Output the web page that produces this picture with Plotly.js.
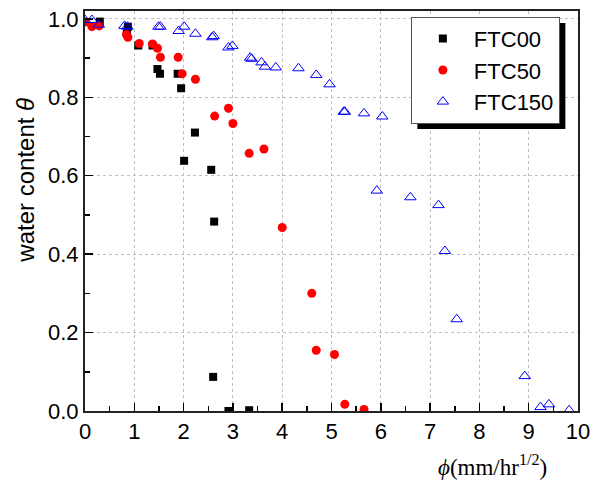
<!DOCTYPE html>
<html>
<head>
<meta charset="utf-8">
<script src="https://cdn.plot.ly/plotly-3.0.1.min.js"></script>
<style>html,body{margin:0;padding:0;background:#fff;}#chart{width:595px;height:489px;}</style>
</head>
<body>
<div id="chart"></div>
<script>
const seriesNames = ["FTC00", "FTC50", "FTC150"];

const ftc00X = [0.30, 0.87, 0.85, 1.08, 1.37, 1.47, 1.52, 1.88, 1.95, 2.23, 2.01, 2.56, 2.62, 2.60, 2.91, 3.33];
const ftc00Y = [0.993, 0.980, 0.963, 0.932, 0.932, 0.872, 0.860, 0.860, 0.823, 0.710, 0.638, 0.615, 0.483, 0.087, 0.000, 0.002];

const ftc50X = [0.00, 0.14, 0.29, 0.84, 0.87, 1.10, 1.37, 1.47, 1.53, 1.89, 1.97, 2.24, 2.63, 2.91, 3.00, 3.33, 3.63, 4.00, 4.60, 4.69, 5.06, 5.27, 5.66];
const ftc50Y = [0.992, 0.980, 0.982, 0.960, 0.953, 0.937, 0.936, 0.925, 0.902, 0.902, 0.860, 0.846, 0.752, 0.772, 0.733, 0.657, 0.668, 0.468, 0.300, 0.155, 0.144, 0.017, 0.004];

const ftc150X = [0.00, 0.14, 0.28, 0.80, 0.86, 1.49, 1.53, 1.90, 2.01, 2.24, 2.58, 2.61, 2.91, 2.99, 3.35, 3.38, 3.58, 3.65, 3.87, 4.33, 4.69, 4.96, 5.25, 5.27, 5.66, 6.03, 5.92, 6.60, 7.17, 7.30, 7.54, 8.92, 9.24, 9.41, 9.82];
const ftc150Y = [0.997, 0.997, 0.985, 0.982, 0.980, 0.980, 0.980, 0.969, 0.980, 0.962, 0.953, 0.956, 0.927, 0.931, 0.901, 0.898, 0.889, 0.878, 0.876, 0.874, 0.857, 0.833, 0.763, 0.763, 0.759, 0.751, 0.562, 0.545, 0.525, 0.408, 0.234, 0.089, 0.010, 0.017, 0.002];

const xTickVals = [0,1,2,3,4,5,6,7,8,9,10];
const yTickVals = [0.0,0.2,0.4,0.6,0.8,1.0];
const yTickText = ["0.0","0.2","0.4","0.6","0.8","1.0"];

const traces = [
  {x: ftc00X, y: ftc00Y, name: seriesNames[0], type: "scatter", mode: "markers",
   marker: {symbol: "square", size: 8, color: "#000000"}},
  {x: ftc50X, y: ftc50Y, name: seriesNames[1], type: "scatter", mode: "markers",
   marker: {symbol: "circle", size: 9, color: "#ff0000"}},
  {x: ftc150X, y: ftc150Y, name: seriesNames[2], type: "scatter", mode: "markers",
   marker: {symbol: "triangle-up-open", size: 10, color: "#0000ff", line: {width: 1, color: "#0000ff"}}}
];

const axisFont = {family: "Liberation Sans, Arial, sans-serif", size: 22, color: "#000"};

const layout = {
  width: 595, height: 489,
  margin: {l: 85, r: 17, t: 11, b: 78},
  paper_bgcolor: "#fff", plot_bgcolor: "#fff",
  showlegend: true,
  legend: {
    x: 0.661, y: 0.986, xanchor: "left", yanchor: "top",
    bgcolor: "#fff", bordercolor: "#555", borderwidth: 1,
    font: {family: "Liberation Sans, Arial, sans-serif", size: 22, color: "#000"},
    itemwidth: 52, tracegroupgap: 0
  },
  xaxis: {
    range: [0, 10], tickvals: xTickVals, ticktext: xTickVals.map(String),
    ticks: "inside", ticklen: 8, tickwidth: 1.5, tickcolor: "#000",
    minor: {dtick: 0.5, ticks: "inside", ticklen: 5, tickwidth: 1.5, tickcolor: "#000", showgrid: false},
    showline: true, linecolor: "#222", linewidth: 2, mirror: true,
    showgrid: true, gridcolor: "#c0c0c0", griddash: "dot", gridwidth: 1,
    zeroline: false, tickfont: axisFont
  },
  yaxis: {
    range: [0, 1.02], tickvals: yTickVals, ticktext: yTickText,
    ticks: "inside", ticklen: 8, tickwidth: 1.5, tickcolor: "#000",
    minor: {dtick: 0.1, ticks: "inside", ticklen: 5, tickwidth: 1.5, tickcolor: "#000", showgrid: false},
    showline: true, linecolor: "#222", linewidth: 2, mirror: true,
    showgrid: true, gridcolor: "#c0c0c0", griddash: "dot", gridwidth: 1,
    zeroline: false, tickfont: axisFont
  },
  shapes: [],
  annotations: [
    {text: "<i>ϕ</i>(mm/hr<sup>1/2</sup>)", xref: "paper", yref: "paper",
     x: 0.827, y: -0.135, xanchor: "center", yanchor: "middle", showarrow: false,
     font: {family: "Liberation Serif, Times New Roman, serif", size: 23, color: "#000"}},
    {text: "water content <i>θ</i>", xref: "paper", yref: "paper",
     x: -0.12, y: 0.578, xanchor: "center", yanchor: "middle", showarrow: false,
     textangle: -90,
     font: {family: "Liberation Sans, Arial, sans-serif", size: 24, color: "#000"}}
  ]
};

Plotly.newPlot("chart", traces, layout, {displayModeBar: false, staticPlot: true}).then(function (gd) {
  // legend drop shadow: a black rectangle offset from the rendered legend box
  const bg = gd.querySelector(".legend .bg");
  if (!bg) return;
  const r = bg.getBoundingClientRect();
  const c = gd.getBoundingClientRect();
  const fs = gd._fullLayout._size;
  const off = 6;
  const px2x = function (px) { return (px - c.left - fs.l) / fs.w; };
  const px2y = function (py) { return 1 - (py - c.top - fs.t) / fs.h; };
  Plotly.relayout(gd, {shapes: [{
    type: "rect", xref: "paper", yref: "paper", layer: "above",
    x0: px2x(r.left + off), x1: px2x(r.right + off),
    y0: px2y(r.bottom + off), y1: px2y(r.top + off),
    fillcolor: "#000", line: {width: 0}
  }]});
});
</script>
</body>
</html>
